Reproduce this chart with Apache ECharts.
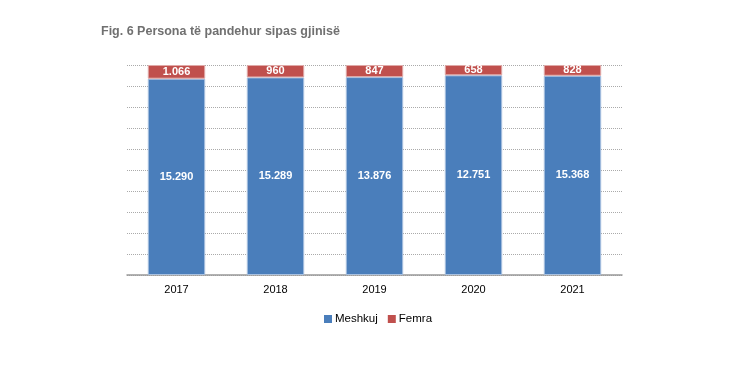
<!DOCTYPE html>
<html><head><meta charset="utf-8">
<script src="https://cdn.jsdelivr.net/npm/echarts@6/dist/echarts.min.js"></script>
<style>html,body{margin:0;padding:0;background:#fff}#c{width:756px;height:378px}</style>
</head><body><div id="c"></div>
<script>
const years = ['2017','2018','2019','2020','2021'];
const meshkuj = [15290, 15289, 13876, 12751, 15368];
const femra = [1066, 960, 847, 658, 828];
const fmt = v => v.toLocaleString('de-DE');
const pctM = meshkuj.map((v,i)=> v/(v+femra[i])*100);
const pctF = femra.map((v,i)=> v/(meshkuj[i]+v)*100);
const chart = echarts.init(document.getElementById('c'));
const FF = 'Liberation Sans, Arial, sans-serif';
const lbl = {show:true, color:'#fff', fontWeight:'bold', fontSize:11, fontFamily:FF};
chart.setOption({
  animation:false,
  title:{text:'Fig. 6 Persona të pandehur sipas gjinisë', left:96, top:20,
    textStyle:{fontSize:12.5, fontWeight:900, color:'#707070', fontFamily:FF}},
  grid:{left:127, right:134, top:65, bottom:103},
  legend:{data:['Meshkuj','Femra'], bottom:48, left:'center', itemWidth:8, itemHeight:8, itemGap:10,
    icon:'rect', itemStyle:{borderWidth:0},
    textStyle:{fontSize:11.5, color:'#000', fontFamily:FF, padding:[0,0,0,-2]}},
  xAxis:{type:'category', data:years, axisTick:{show:false},
    axisLine:{lineStyle:{color:'#999', width:1.5}},
    axisLabel:{color:'#000', fontSize:11, margin:9, fontFamily:FF}},
  yAxis:{type:'value', min:0, max:100, interval:10, axisLabel:{show:false},
    axisLine:{show:false}, axisTick:{show:false},
    splitLine:{lineStyle:{color:'#aaa', type:[1,1], width:1}}},
  series:[
    {name:'Meshkuj', type:'bar', stack:'a', barWidth:'58%', data:pctM,
      itemStyle:{color:'#4a7ebb', borderColor:'#a9c1e0', borderWidth:1},
      label:Object.assign({}, lbl, {position:'inside', formatter:p=>fmt(meshkuj[p.dataIndex])})},
    {name:'Femra', type:'bar', stack:'a', data:pctF,
      itemStyle:{color:'#c0504d', borderColor:'#e0a9a7', borderWidth:1},
      label:Object.assign({}, lbl, {position:'inside', formatter:p=>fmt(femra[p.dataIndex])})}
  ]
});
</script></body></html>
